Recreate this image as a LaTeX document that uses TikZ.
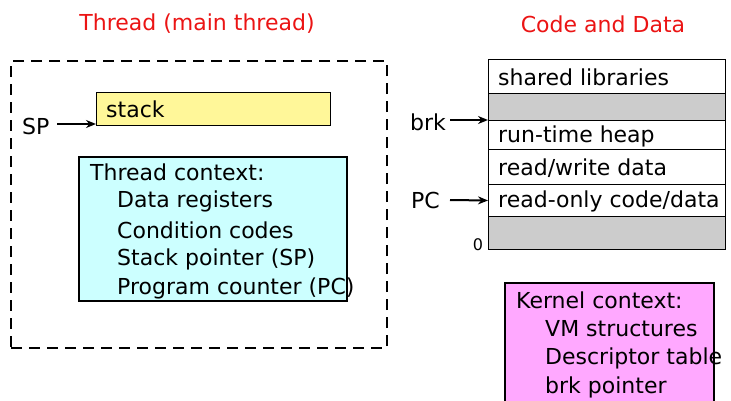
\documentclass[tikz,border=0pt]{standalone}
\usepackage{fontspec}
\setmainfont{DejaVu Sans}
\usetikzlibrary{arrows.meta}
\definecolor{titlered}{RGB}{235,20,20}
\definecolor{stackfill}{RGB}{255,247,153}
\definecolor{ctxfill}{RGB}{204,255,255}
\definecolor{kernfill}{RGB}{255,168,255}
\definecolor{gapfill}{RGB}{204,204,204}
\tikzset{
  lbl/.style={inner sep=0pt, anchor=west, font=\fontsize{22}{22}\selectfont},
  title/.style={inner sep=0pt, text=titlered, font=\fontsize{22}{22}\selectfont},
  seg/.style={draw=black, line width=1pt, anchor=north west, inner sep=0pt,
              minimum width=237pt},
  ptr/.style={-{Stealth[length=10pt,width=8pt]}, line width=2pt},
}
\begin{document}
\begin{tikzpicture}[x=1pt,y=-1pt]
\useasboundingbox (0,0) rectangle (731,401);

% titles
\node[title] (ttl1) at (197,24) {Thread (main thread)};
\node[title] (ttl2) at (603,24) {Code and Data};

% thread boundary
\node[draw, dash pattern=on 11pt off 7pt, line width=2.4pt, anchor=north west,
      minimum width=376pt, minimum height=287pt, inner sep=0pt] (thr) at (10,60) {};

% stack
\node[draw, line width=1pt, fill=stackfill, anchor=north west, inner sep=0pt,
      minimum width=234pt, minimum height=33pt] (stack) at (96,92) {};
\node[lbl] (stacktxt) at (106,109) {stack};
\node[lbl] (sp) at (22,126) {SP};
\coordinate (spstart) at (57,124);
\draw[ptr] (spstart) -- (spstart -| stack.west);

% thread context
\node[draw, line width=2pt, fill=ctxfill, anchor=north west, inner sep=0pt,
      minimum width=268pt, minimum height=144pt] (tctx) at (78,156) {};
\node[lbl] (tc0) at (90,172) {Thread context:};
\node[lbl] (tc1) at (117,201) {Data registers};
\node[lbl] (tc2) at (117,230) {Condition codes};
\node[lbl] (tc3) at (117,259) {Stack pointer (SP)};
\node[lbl] (tc4) at (117,288) {Program counter (PC)};

% address space
\node[seg, minimum height=34pt] (shl) at (488,59) {};
\node[seg, minimum height=27pt, fill=gapfill] (gap1) at (488,93) {};
\node[seg, minimum height=29pt] (heap) at (488,120) {};
\node[seg, minimum height=35pt] (rw) at (488,149) {};
\node[seg, minimum height=32pt] (ro) at (488,184) {};
\node[seg, minimum height=33pt, fill=gapfill] (gap2) at (488,216) {};
\node[lbl] (shltxt) at (498,77) {shared libraries};
\node[lbl] (heaptxt) at (498,136) {run-time heap};
\node[lbl] (rwtxt) at (498,168) {read/write data};
\node[lbl] (rotxt) at (498,201) {read-only code/data};
\node[inner sep=0pt, font=\fontsize{16}{16}\selectfont] (zero) at (478,245) {0};

\node[lbl] (brk) at (410,122) {brk};
\coordinate (brkstart) at (450,120);
\draw[ptr] (brkstart) -- (heap.north west);
\node[lbl] (pc) at (411,200) {PC};
\coordinate (pcstart) at (450,200);
\draw[ptr] (pcstart) -- (ro.west);

% kernel context
\node[draw, line width=1.5pt, fill=kernfill, anchor=north west, inner sep=0pt,
      minimum width=209pt, minimum height=140pt] (kctx) at (504,282) {};
\node[lbl] (kc0) at (516,300) {Kernel context:};
\node[lbl] (kc1) at (545,329) {VM structures};
\node[lbl] (kc2) at (545,358) {Descriptor table};
\node[lbl] (kc3) at (545,387) {brk pointer};
\end{tikzpicture}
\end{document}
